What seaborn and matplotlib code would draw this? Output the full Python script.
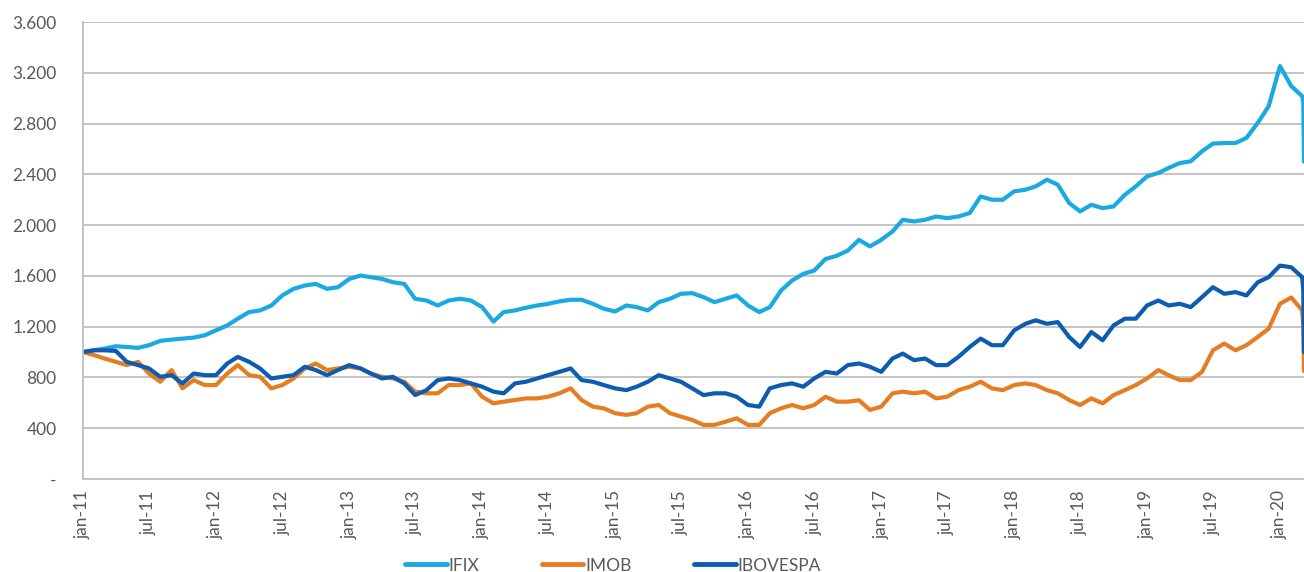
import seaborn as sns
import matplotlib.pyplot as plt
import pandas as pd
import numpy as np

# Monthly readings (first of month), jan-11 .. feb-20, then three points in March 2020
months = pd.date_range('2011-01-01', '2020-02-01', freq='MS')
march_dates = pd.to_datetime(['2020-03-02', '2020-03-05', '2020-03-07'])
dates = months.append(march_dates)

ifix = [
    1000, 1015, 1027, 1046, 1040, 1033, 1054, 1088, 1098, 1106, 1114, 1132,
    1171, 1210, 1263, 1315, 1328, 1367, 1446, 1498, 1524, 1537, 1498, 1511,
    1576, 1603, 1590, 1576, 1550, 1537, 1420, 1406, 1367, 1406, 1420, 1406,
    1354, 1240, 1315, 1328, 1349, 1367, 1380, 1399, 1412, 1412, 1380, 1341,
    1320, 1367, 1354, 1328, 1393, 1420, 1459, 1464, 1433, 1393, 1420, 1446,
    1367, 1315, 1354, 1485, 1563, 1616, 1642, 1733, 1759, 1799, 1884, 1832,
    1884, 1950, 2042, 2029, 2042, 2068, 2055, 2068, 2095, 2226, 2200, 2200,
    2266, 2279, 2305, 2358, 2318, 2174, 2108, 2160, 2134, 2147, 2239, 2305,
    2384, 2411, 2450, 2489, 2503, 2582, 2642, 2647, 2647, 2687, 2805, 2937,
    3253, 3095,
    3016, 2963, 2500,
]

imob = [
    1000, 975, 949, 923, 897, 923, 831, 766, 858, 714, 779, 740,
    740, 831, 897, 818, 805, 714, 740, 792, 871, 910, 858, 871,
    884, 871, 831, 805, 792, 766, 688, 675, 675, 740, 740, 753,
    648, 596, 609, 622, 635, 635, 648, 675, 714, 622, 570, 557,
    518, 505, 518, 570, 583, 518, 492, 465, 426, 426, 452, 478,
    426, 426, 518, 557, 583, 557, 583, 648, 609, 609, 620, 544,
    570, 675, 688, 675, 688, 635, 648, 700, 727, 766, 714, 700,
    740, 753, 740, 700, 675, 622, 583, 635, 596, 661, 700, 740,
    792, 858, 818, 779, 779, 844, 1014, 1067, 1014, 1054, 1119, 1184,
    1380, 1430,
    1328, 1200, 850,
]

ibovespa = [
    1000, 1014, 1014, 1009, 923, 897, 871, 805, 818, 753, 831, 818,
    818, 910, 962, 923, 871, 792, 805, 818, 884, 858, 818, 858,
    897, 871, 831, 792, 805, 753, 661, 700, 779, 792, 779, 753,
    727, 688, 675, 753, 766, 792, 818, 844, 871, 779, 766, 740,
    714, 700, 727, 766, 818, 792, 766, 714, 661, 675, 675, 648,
    583, 570, 714, 740, 753, 727, 792, 844, 831, 897, 910, 884,
    844, 949, 988, 936, 949, 897, 897, 962, 1040, 1106, 1054, 1054,
    1171, 1223, 1250, 1223, 1236, 1119, 1040, 1158, 1093, 1210, 1263, 1263,
    1367, 1406, 1367, 1380, 1354, 1433, 1511, 1459, 1472, 1446, 1550, 1590,
    1681, 1668,
    1590, 1485, 1000,
]

series_names = ['IFIX', 'IMOB', 'IBOVESPA']
colors = ['#1aa9e1', '#e57e22', '#0d5cb0']

y_ticks = [0, 400, 800, 1200, 1600, 2000, 2400, 2800, 3200, 3600]
y_labels = ['-', '400', '800', '1.200', '1.600', '2.000', '2.400', '2.800', '3.200', '3.600']

x_tick_labels = []
for yy in range(11, 21):
    x_tick_labels.append(f'jan-{yy}')
    if yy < 20:
        x_tick_labels.append(f'jul-{yy}')
x_ticks = pd.to_datetime(['20%s-%s-01' % (lab[-2:], '01' if lab.startswith('jan') else '07')
                          for lab in x_tick_labels])

df = pd.DataFrame({'date': np.tile(dates, 3),
                   'value': ifix + imob + ibovespa,
                   'serie': np.repeat(series_names, len(dates))})

sns.set_style('white')
plt.rcParams['font.family'] = ['Lato', 'DejaVu Sans']

fig = plt.figure(figsize=(13.04, 5.72), dpi=100)
ax = fig.add_axes([0.0637, 0.1626, 0.9363, 0.7989])

sns.lineplot(data=df, x='date', y='value', hue='serie', hue_order=series_names,
             palette=colors, linewidth=3, ax=ax, legend=False)

grey = '#595959'
ax.set_ylim(0, 3600)
ax.set_xlim(dates[0], dates[-1])
ax.set_yticks(y_ticks)
ax.set_yticklabels(y_labels, fontsize=12.5, color=grey)
ax.set_xticks(x_ticks)
ax.set_xticklabels(x_tick_labels, rotation=90, fontsize=12.5, color=grey)
ax.grid(axis='y', color='#bfbfbf', linewidth=1.3)
ax.set_axisbelow(True)
ax.set_xlabel('')
ax.set_ylabel('')

for side in ['top', 'right']:
    ax.spines[side].set_visible(False)
for side in ['left', 'bottom']:
    ax.spines[side].set_color('#bfbfbf')
    ax.spines[side].set_linewidth(1.3)
ax.tick_params(axis='both', which='major', length=5, width=1.3, color='#bfbfbf',
               direction='out')
ax.tick_params(axis='y', pad=14)
ax.tick_params(axis='x', pad=3)

handles = [plt.Line2D([], [], color=c, linewidth=3.5) for c in colors]
fig.legend(handles, series_names, loc='lower center', bbox_to_anchor=(0.47, -0.03),
           ncol=3, frameon=False, fontsize=12.5, handlelength=2.4, handletextpad=0.1,
           columnspacing=3.6, labelcolor=grey)

fig.savefig('out.png', dpi=100)
